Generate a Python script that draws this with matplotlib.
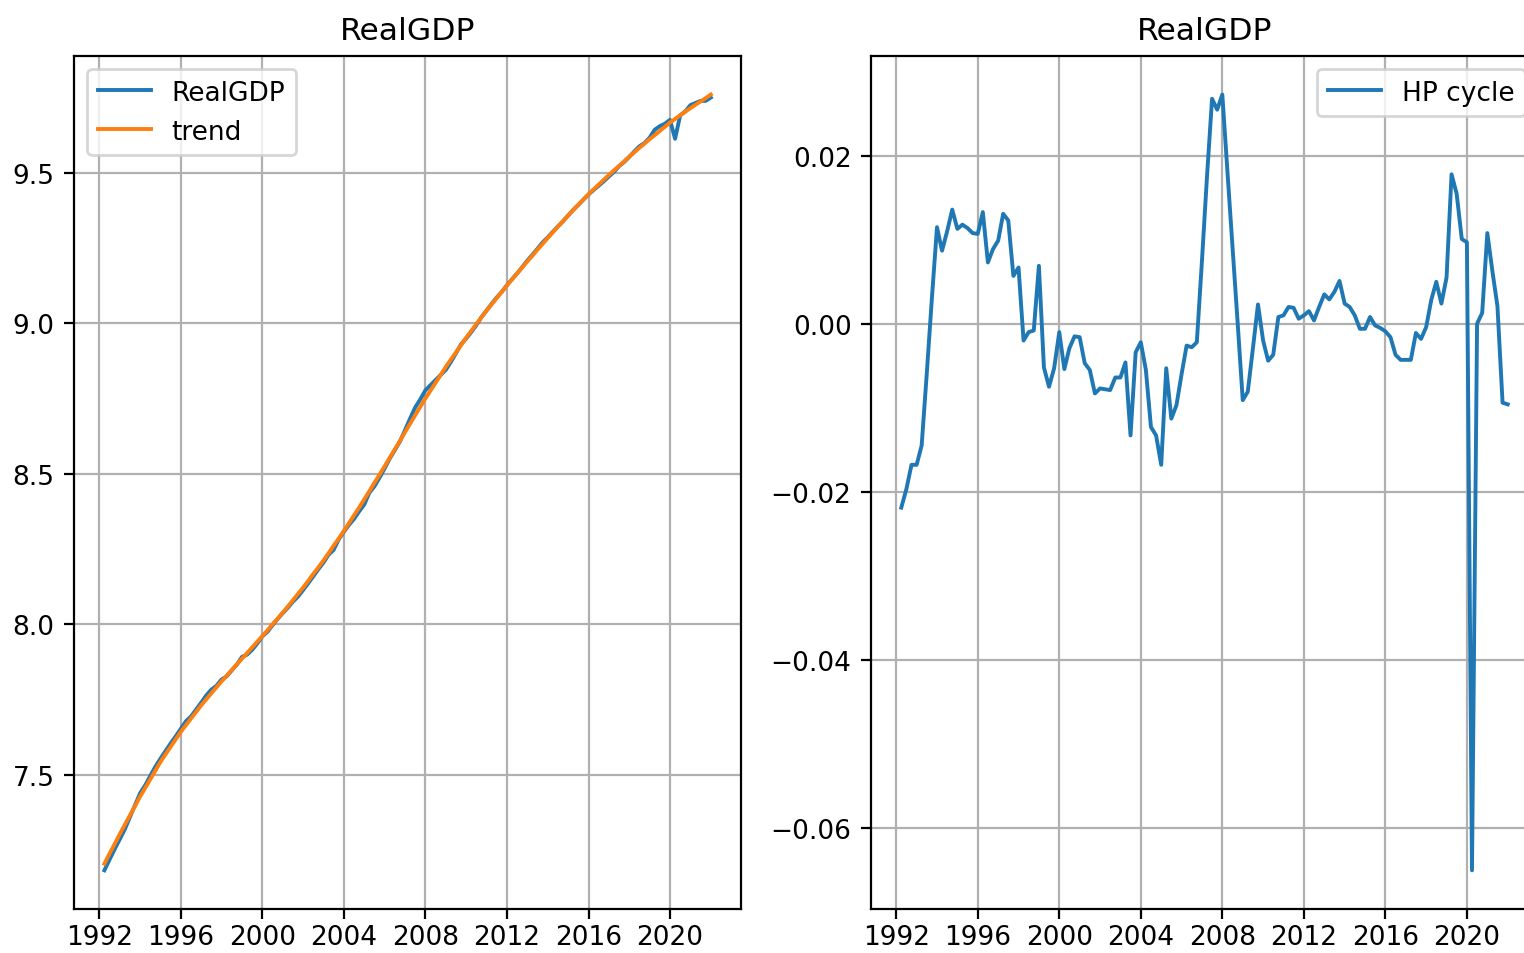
import matplotlib
matplotlib.use("Agg")
import matplotlib.pyplot as plt
import matplotlib.dates as mdates
import pandas as pd

first_quarter = "1992Q1"

realgdp = [
	7.183, 7.218, 7.253, 7.286, 7.319, 7.359, 7.399, 7.439, 7.465, 7.496,
	7.527, 7.554, 7.579, 7.604, 7.628, 7.653, 7.678, 7.694, 7.717, 7.740,
	7.764, 7.783, 7.796, 7.817, 7.827, 7.847, 7.866, 7.892, 7.899, 7.915,
	7.936, 7.960, 7.975, 7.997, 8.018, 8.037, 8.055, 8.075, 8.092, 8.114,
	8.136, 8.159, 8.183, 8.205, 8.231, 8.247, 8.282, 8.307, 8.330, 8.350,
	8.375, 8.398, 8.437, 8.458, 8.487, 8.518, 8.550, 8.578, 8.607, 8.645,
	8.683, 8.720, 8.747, 8.777, 8.794, 8.811, 8.828, 8.845, 8.871, 8.900,
	8.930, 8.949, 8.970, 8.993, 9.020, 9.042, 9.064, 9.085, 9.104, 9.126,
	9.146, 9.165, 9.186, 9.208, 9.227, 9.247, 9.268, 9.285, 9.303, 9.321,
	9.338, 9.357, 9.376, 9.392, 9.410, 9.427, 9.442, 9.456, 9.471, 9.487,
	9.502, 9.521, 9.535, 9.552, 9.570, 9.587, 9.598, 9.616, 9.642, 9.654,
	9.662, 9.675, 9.612, 9.690, 9.703, 9.724, 9.731, 9.738, 9.738, 9.749,
]

trend = [
	7.205, 7.238, 7.270, 7.303, 7.334, 7.365, 7.396, 7.428, 7.456, 7.485,
	7.514, 7.543, 7.568, 7.593, 7.618, 7.643, 7.665, 7.687, 7.709, 7.731,
	7.751, 7.771, 7.791, 7.811, 7.829, 7.848, 7.867, 7.886, 7.904, 7.923,
	7.942, 7.961, 7.980, 8.000, 8.019, 8.039, 8.059, 8.080, 8.101, 8.122,
	8.144, 8.167, 8.189, 8.212, 8.236, 8.261, 8.285, 8.310, 8.336, 8.362,
	8.388, 8.415, 8.442, 8.470, 8.497, 8.525, 8.553, 8.581, 8.609, 8.638,
	8.666, 8.694, 8.722, 8.750, 8.776, 8.802, 8.828, 8.855, 8.879, 8.903,
	8.927, 8.952, 8.974, 8.997, 9.019, 9.042, 9.062, 9.083, 9.104, 9.125,
	9.145, 9.165, 9.185, 9.205, 9.224, 9.244, 9.263, 9.283, 9.301, 9.320,
	9.339, 9.358, 9.375, 9.393, 9.410, 9.428, 9.444, 9.460, 9.476, 9.492,
	9.507, 9.522, 9.537, 9.553, 9.567, 9.582, 9.596, 9.611, 9.624, 9.638,
	9.652, 9.666, 9.678, 9.690, 9.702, 9.714, 9.725, 9.736, 9.747, 9.759,
]

cycle = [
	-0.0219, -0.0197, -0.0168, -0.0168, -0.0145, -0.0060, 0.0030, 0.0115, 0.0087, 0.0110,
	0.0136, 0.0113, 0.0118, 0.0114, 0.0108, 0.0107, 0.0133, 0.0073, 0.0089, 0.0099,
	0.0131, 0.0123, 0.0057, 0.0067, -0.0020, -0.0010, -0.0008, 0.0069, -0.0052, -0.0075,
	-0.0053, -0.0010, -0.0054, -0.0029, -0.0015, -0.0016, -0.0047, -0.0055, -0.0083, -0.0077,
	-0.0078, -0.0079, -0.0064, -0.0064, -0.0046, -0.0133, -0.0034, -0.0022, -0.0055, -0.0123,
	-0.0133, -0.0168, -0.0053, -0.0113, -0.0097, -0.0060, -0.0026, -0.0028, -0.0022, 0.0075,
	0.0175, 0.0268, 0.0255, 0.0273, 0.0182, 0.0092, 0.0002, -0.0091, -0.0081, -0.0030,
	0.0023, -0.0020, -0.0044, -0.0037, 0.0008, 0.0010, 0.0020, 0.0019, 0.0006, 0.0010,
	0.0015, 0.0004, 0.0020, 0.0035, 0.0029, 0.0038, 0.0051, 0.0024, 0.0020, 0.0010,
	-0.0006, -0.0006, 0.0008, -0.0002, -0.0005, -0.0009, -0.0016, -0.0037, -0.0043, -0.0043,
	-0.0043, -0.0011, -0.0018, -0.0004, 0.0028, 0.0050, 0.0024, 0.0055, 0.0178, 0.0155,
	0.0101, 0.0097, -0.0651, 0.0000, 0.0013, 0.0108, 0.0063, 0.0021, -0.0094, -0.0096,
]

dates = pd.period_range(first_quarter, periods=len(realgdp), freq="Q").to_timestamp(how="end").normalize()

plt.rcParams["font.size"] = 9.5
plt.rcParams["axes.titlesize"] = 11.3
plt.rcParams["xtick.major.pad"] = 2

fig = plt.figure(figsize=(7.62, 4.77), dpi=200)
ax1 = fig.add_axes([0.0486, 0.046, 0.4377, 0.8945])
ax2 = fig.add_axes([0.5715, 0.046, 0.4377, 0.8945])

ax1.plot(dates, realgdp, label="RealGDP", lw=1.4)
ax1.plot(dates, trend, label="trend", lw=1.4)
ax1.legend(loc="upper left")
ax1.set_title("RealGDP")

ax2.plot(dates, cycle, label="HP cycle", lw=1.4)
ax2.legend(loc="upper right")
ax2.set_title("RealGDP")

for ax in (ax1, ax2):
	ax.grid(True)
	ax.xaxis.set_major_locator(mdates.YearLocator(4))
	ax.xaxis.set_major_formatter(mdates.DateFormatter("%Y"))

fig.savefig("out.png", dpi=200)
